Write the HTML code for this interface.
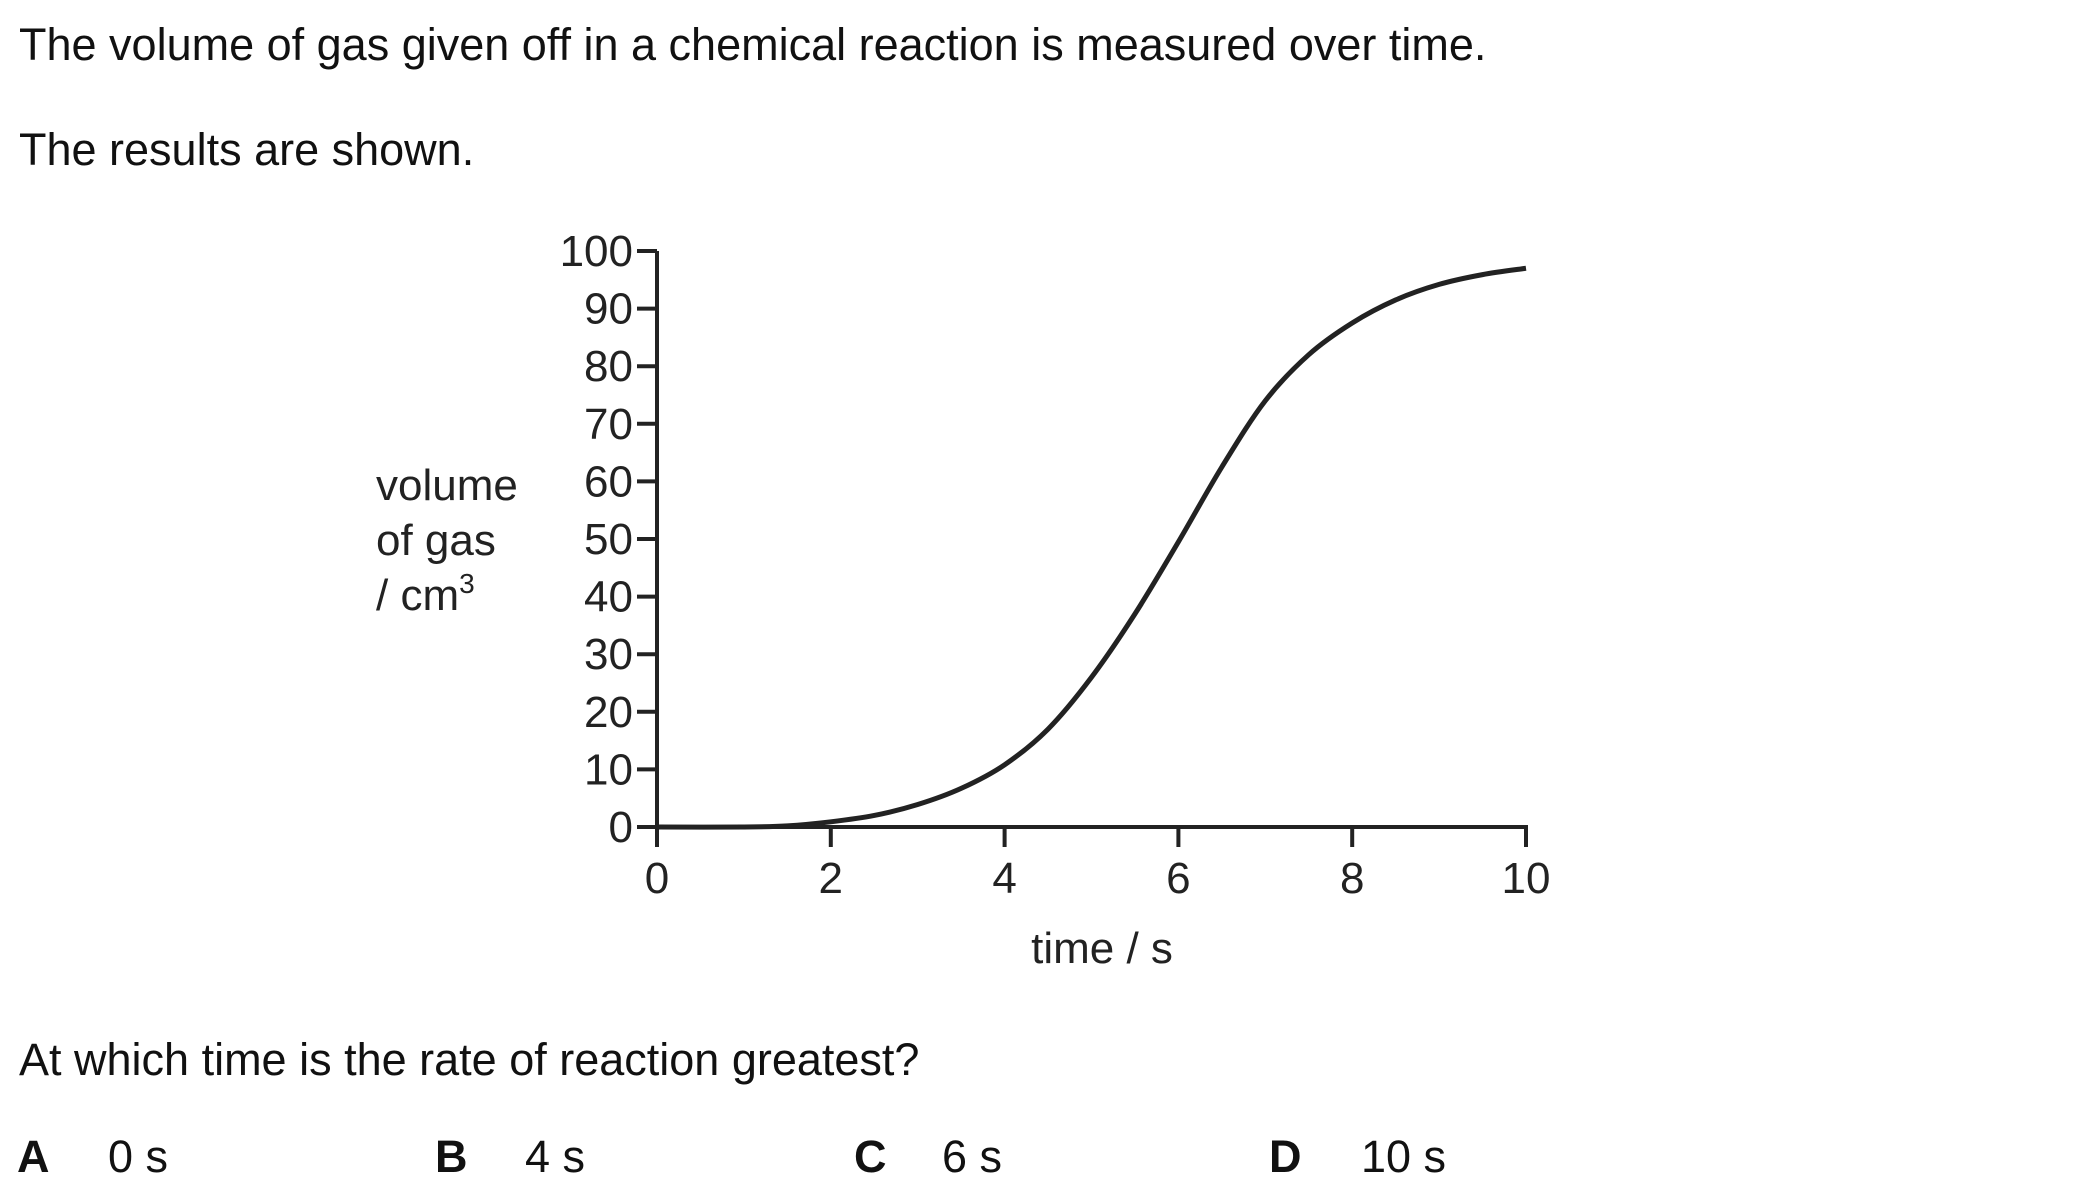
<!DOCTYPE html>
<html><head><meta charset="utf-8"><style>
body{margin:0;background:#fff;width:2099px;height:1197px;overflow:hidden;font-family:"Liberation Sans",Arial,sans-serif;color:#111}
.t{position:absolute;font-size:45px;white-space:nowrap;line-height:1}
</style></head><body>
<div class="t" style="left:19px;top:22px">The volume of gas given off in a chemical reaction is measured over time.</div>
<div class="t" style="left:19px;top:127px">The results are shown.</div>
<div class="t" style="left:19px;top:1037px">At which time is the rate of reaction greatest?</div>
<div class="t" style="left:17px;top:1134px"><b>A</b><span style="position:absolute;left:91px">0 s</span></div>
<div class="t" style="left:435px;top:1134px"><b>B</b><span style="position:absolute;left:90px">4 s</span></div>
<div class="t" style="left:854px;top:1134px"><b>C</b><span style="position:absolute;left:88px">6 s</span></div>
<div class="t" style="left:1269px;top:1134px"><b>D</b><span style="position:absolute;left:92px">10 s</span></div>
<svg id="chart" width="2099" height="1197" style="position:absolute;left:0;top:0" xmlns="http://www.w3.org/2000/svg"></svg>
<script>
const xTicks=[0,2,4,6,8,10];
const yTicks=[0,10,20,30,40,50,60,70,80,90,100];
const times=[0,1,1.5,2,2.5,3,3.5,4,4.5,5,5.5,6,6.5,7,7.5,8,8.5,9,9.5,10];
const volumes=[0,0,0.2,0.9,2,3.9,6.7,10.8,17,26,37,49.5,62.5,74,82,87.5,91.5,94.2,95.9,97];
const svg=document.getElementById('chart');
const NS='http://www.w3.org/2000/svg';
const X0=657,X1=1526,Y0=827,Y1=251;
const sx=v=>X0+(v-0)/10*(X1-X0);
const sy=v=>Y0-(v/100)*(Y0-Y1);
function mk(tag,attrs,parent){const e=document.createElementNS(NS,tag);for(const k in attrs)e.setAttribute(k,attrs[k]);(parent||svg).appendChild(e);return e;}
const ax=mk('line',{x1:X0,y1:Y0,x2:X0,y2:sy(100),stroke:'#222','stroke-width':4});


const ax2=mk('line',{x1:X0,y1:Y0,x2:X1+2,y2:Y0,stroke:'#222','stroke-width':4});


yTicks.forEach(v=>{
  const l=mk('line',{x1:X0-20,y1:sy(v),x2:X0,y2:sy(v),stroke:'#222','stroke-width':4});
  
  
  const t=mk('text',{x:X0-24,y:sy(v)+15,'text-anchor':'end','font-size':44,fill:'#222','font-family':'Liberation Sans, Arial, sans-serif'});
  t.textContent=v;
  
  
});
xTicks.forEach(v=>{
  const l=mk('line',{x1:sx(v),y1:Y0,x2:sx(v),y2:Y0+20,stroke:'#222','stroke-width':4});
  
  
  const t=mk('text',{x:sx(v),y:Y0+66,'text-anchor':'middle','font-size':44,fill:'#222','font-family':'Liberation Sans, Arial, sans-serif'});
  t.textContent=v;
  
  
});
const xt=mk('text',{x:1102,y:963,'text-anchor':'middle','font-size':44,fill:'#222','font-family':'Liberation Sans, Arial, sans-serif'});
xt.textContent='time / s';


const yt=mk('text',{x:376,y:500,'font-size':44,fill:'#222','font-family':'Liberation Sans, Arial, sans-serif'});


[['volume',0],['of gas',55]].forEach(([s,dy])=>{const ts=mk('tspan',{x:376,dy:dy},yt);ts.textContent=s;});
const ts3=mk('tspan',{x:376,dy:55},yt);ts3.textContent='/ cm';
const sup=mk('tspan',{dy:-17,'font-size':28},yt);sup.textContent='3';
const P=times.map((t,i)=>[sx(t),sy(volumes[i])]);
let d='M'+P[0][0]+','+P[0][1];
for(let i=0;i<P.length-1;i++){
  const p0=P[Math.max(0,i-1)],p1=P[i],p2=P[i+1],p3=P[Math.min(P.length-1,i+2)];
  const c1=[p1[0]+(p2[0]-p0[0])/6,p1[1]+(p2[1]-p0[1])/6];
  const c2=[p2[0]-(p3[0]-p1[0])/6,p2[1]-(p3[1]-p1[1])/6];
  d+=' C'+c1[0]+','+c1[1]+' '+c2[0]+','+c2[1]+' '+p2[0]+','+p2[1];
}
const c=mk('path',{d:d,fill:'none',stroke:'#222','stroke-width':5});


</script>
</body></html>
